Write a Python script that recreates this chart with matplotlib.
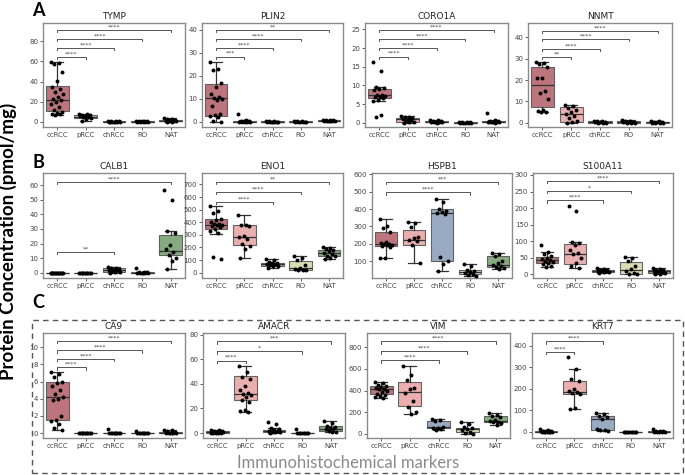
## Import

import numpy as np
import matplotlib
matplotlib.use('Agg')
import matplotlib.pyplot as plt
from matplotlib.patches import Rectangle

## Data

groups = ['ccRCC', 'pRCC', 'chRCC', 'RO', 'NAT']
group_colors = ['#b5666f', '#e8a6a6', '#8ea2bd', '#d6dbaa', '#7aa273']

# box stats per group : (q1, median, q3, whisker low, whisker high)
# sig : (compared group, stars, bracket height)

tymp_pts = [[59.5, 58, 57, 49, 41, 35, 33, 30, 28, 25, 23, 22, 20, 18, 15, 12, 10, 9, 8, 7.5, 7],
            [8, 7.6, 7.2, 6.8, 6, 5.5, 5, 4.5, 4, 3, 1],
            [1.0, 0.8, 0.6, 0.5, 0.4, 0.3, 0.2, 0.2, 0.1, 0.1, 0],
            [1.2, 1.0, 0.8, 0.6, 0.5, 0.4, 0.3, 0.2, 0.1, 0],
            [3.5, 3, 2.5, 2, 1.5, 1.2, 1, 0.8, 0.5, 0.3, 0.2]]
tymp_box = [(11, 22, 36, 7, 59.5), (4, 5, 7, 1, 8), (0.1, 0.3, 0.6, 0, 1), (0.2, 0.4, 0.8, 0, 1.2), (0.6, 1.1, 2, 0.2, 3.5)]
tymp_sig = [(1, '****', 64.5), (2, '****', 73.4), (3, '****', 82), (4, '****', 91)]

plin2_pts = [[26, 23, 22.5, 17, 15, 12, 11, 10.5, 10, 9.5, 7, 3.5, 3, 2.5, 2, 0.5, 0],
             [3.5, 1, 0.5, 0.3, 0.2, 0.1, 0.1, 0, 0, 0],
             [0.3, 0.2, 0.2, 0.1, 0.1, 0.1, 0, 0, 0, 0],
             [0.4, 0.3, 0.2, 0.1, 0.1, 0.1, 0, 0, 0],
             [1.0, 0.9, 0.8, 0.7, 0.6, 0.5, 0.5, 0.4, 0.3, 0.3]]
plin2_box = [(2.6, 10.2, 16.5, 0, 26), (0, 0.1, 0.3, 0, 1), (0, 0.1, 0.2, 0, 0.3), (0, 0.1, 0.2, 0, 0.4), (0.4, 0.55, 0.8, 0.3, 1.0)]
plin2_sig = [(1, '***', 28.4), (2, '****', 32.2), (3, '****', 36), (4, '**', 40)]

coro1a_pts = [[16.2, 13.8, 9.5, 9.2, 9, 8.8, 7.5, 7.3, 7.1, 7, 6.8, 6.5, 6.2, 5.8, 2, 1.6],
              [1.8, 1.6, 1.4, 1.3, 1.1, 0.9, 0.7, 0.5, 0.3, 0.1, 0],
              [0.8, 0.7, 0.5, 0.4, 0.3, 0.3, 0.2, 0.1, 0.1, 0],
              [0.2, 0.15, 0.1, 0.1, 0.05, 0.05, 0, 0, 0],
              [2.6, 0.7, 0.5, 0.4, 0.3, 0.25, 0.2, 0.1, 0.1, 0]]
coro1a_box = [(6.6, 7.3, 9, 5.8, 9.5), (0.3, 0.9, 1.3, 0, 1.8), (0.1, 0.3, 0.45, 0, 0.8), (0, 0.05, 0.1, 0, 0.2), (0.1, 0.25, 0.45, 0, 0.7)]
coro1a_sig = [(1, '****', 17.7), (2, '****', 19.9), (3, '****', 22.4), (4, '****', 24.8)]

nnmt_pts = [[28.5, 28, 27.5, 26, 21, 20.8, 15, 14, 11, 6, 5.5, 5.2, 5],
            [8.5, 8, 7, 6, 5, 4, 3, 2, 1, 0.5, 0],
            [1, 0.8, 0.6, 0.4, 0.3, 0.2, 0.1, 0, 0],
            [1.2, 1, 0.7, 0.5, 0.3, 0.2, 0.1, 0, 0],
            [1, 0.8, 0.5, 0.3, 0.2, 0.1, 0.1, 0, 0]]
nnmt_box = [(7.5, 17.5, 26, 5, 28.5), (0.5, 4, 7.5, 0, 8.5), (0.1, 0.3, 0.6, 0, 1), (0.1, 0.3, 0.7, 0, 1.2), (0, 0.2, 0.5, 0, 1)]
nnmt_sig = [(1, '**', 31), (2, '****', 34.7), (3, '****', 39.1), (4, '****', 43.2)]

calb1_pts = [[0, 0, 0, 0, 0, 0, 0, 0, 0, 0, 0, 0, 0, 0],
             [0, 0, 0, 0, 0, 0, 0, 0, 0, 0, 0],
             [3.8, 3.5, 3, 2.8, 2.2, 2, 1.8, 1, 0.5, 0.2, 0],
             [3, 0.5, 0.3, 0.2, 0.1, 0, 0, 0, 0, 0],
             [57, 50, 28.5, 27, 19, 16, 14, 12, 10, 8, 2.5]]
calb1_box = [(0, 0, 0, 0, 0), (0, 0, 0, 0, 0), (0.5, 2, 3, 0, 3.8), (0, 0.1, 0.3, 0, 0.5), (12, 15, 26, 2.5, 28.5)]
calb1_sig = [(2, '**', 14.4), (4, '****', 62.3)]

eno1_pts = [[530, 490, 470, 430, 420, 400, 390, 385, 380, 375, 370, 360, 350, 330, 315, 125, 110],
            [460, 380, 375, 370, 290, 280, 270, 230, 210, 190, 120],
            [110, 100, 85, 80, 75, 70, 68, 62, 55, 50, 40],
            [130, 120, 100, 60, 35, 30, 25, 22, 20],
            [205, 195, 185, 180, 170, 160, 150, 135, 130, 115, 110]]
eno1_box = [(345, 380, 430, 310, 530), (220, 280, 375, 120, 460), (55, 70, 80, 40, 110), (25, 35, 95, 20, 130), (130, 160, 180, 110, 205)]
eno1_sig = [(2, '****', 563), (3, '****', 640), (4, '**', 720)]

hspb1_pts = [[340, 300, 290, 270, 210, 205, 200, 198, 195, 190, 185, 180, 120, 115],
             [325, 320, 295, 240, 230, 220, 215, 190, 88],
             [460, 440, 400, 390, 385, 380, 370, 125, 100, 80, 45],
             [85, 70, 50, 40, 35, 30, 25, 20, 15],
             [148, 140, 130, 100, 90, 75, 70, 65, 60, 55]]
hspb1_box = [(185, 200, 265, 115, 340), (195, 220, 280, 88, 325), (100, 380, 400, 45, 460), (25, 35, 50, 15, 85), (65, 75, 130, 55, 148)]
hspb1_sig = [(3, '****', 496), (4, '***', 557)]

s100a11_pts = [[88, 68, 60, 55, 50, 45, 42, 40, 38, 35, 30, 25, 22],
               [207, 190, 97, 95, 90, 75, 65, 60, 50, 35, 25, 20],
               [18, 16, 14, 13, 12, 11, 10, 9, 8, 6, 5],
               [52, 50, 40, 25, 15, 10, 5, 2, 0],
               [18, 16, 13, 12, 10, 9, 8, 6, 5, 2, 0]]
s100a11_box = [(33, 42, 52, 22, 68), (30, 60, 92, 20, 97), (8, 11, 13, 5, 18), (2, 14, 38, 0, 52), (5, 9, 12, 0, 18)]
s100a11_sig = [(2, '****', 223), (3, '*', 252), (4, '****', 281)]

ca9_pts = [[7.1, 6.9, 6.5, 6.0, 5.8, 5.5, 5.0, 4.5, 4.2, 4.0, 3.8, 2.0, 1.5, 1.4, 1.0, 0.6, 0.4],
           [0.05, 0.03, 0.02, 0.01, 0, 0, 0, 0, 0, 0, 0],
           [0.5, 0.05, 0.03, 0.02, 0, 0, 0, 0, 0, 0],
           [0.25, 0.05, 0.03, 0.02, 0, 0, 0, 0, 0, 0],
           [0.35, 0.3, 0.2, 0.1, 0.05, 0.02, 0, 0, 0, 0]]
ca9_box = [(1.5, 4.2, 5.9, 0.4, 7.1), (0, 0, 0.02, 0, 0.05), (0, 0, 0.03, 0, 0.05), (0, 0, 0.03, 0, 0.05), (0, 0.03, 0.15, 0, 0.35)]
ca9_sig = [(1, '****', 7.65), (2, '****', 8.67), (3, '****', 9.64), (4, '****', 10.7)]

amacr_pts = [[2.5, 2.2, 1.8, 1.5, 1.2, 1.0, 0.8, 0.6, 0.5, 0.3, 0.2, 0.1, 0, 0],
             [54.5, 50, 46, 44, 38, 35, 33, 32, 31, 29, 27, 25, 19, 18, 17.5],
             [9, 7.5, 3.8, 3, 2.5, 2, 1.5, 1.2, 1, 0.5, 0],
             [3, 0.3, 0.2, 0.1, 0, 0, 0, 0, 0],
             [10, 8, 6, 5, 4, 3.5, 3, 2, 1, 0.5]]
amacr_box = [(0.3, 0.8, 1.3, 0, 2.5), (27, 32, 46.5, 17.5, 54.5), (1, 1.5, 2.3, 0, 3.8), (0, 0.1, 0.2, 0, 0.3), (2, 3.5, 5.5, 0.5, 10)]
amacr_sig = [(1, '****', 59), (3, '*', 66.4), (4, '***', 74.5)]

vim_pts = [[480, 470, 450, 440, 430, 420, 415, 410, 400, 390, 370, 360, 345, 340, 335],
           [630, 540, 500, 420, 410, 380, 300, 250, 200, 185],
           [140, 130, 120, 60, 55, 50, 45, 35],
           [110, 90, 60, 50, 40, 30, 15, 5, 0],
           [190, 175, 160, 150, 130, 120, 110, 105, 95, 80]]
vim_box = [(365, 410, 440, 335, 480), (260, 385, 480, 185, 630), (55, 60, 120, 35, 140), (15, 40, 55, 0, 110), (105, 120, 160, 80, 190)]
vim_sig = [(2, '****', 679), (3, '****', 762), (4, '****', 855)]

krt7_pts = [[12, 8, 6, 5, 4, 3, 2, 2, 1, 1, 0, 0, 0],
            [345, 290, 245, 235, 200, 190, 185, 180, 175, 110, 105],
            [90, 85, 75, 70, 60, 15, 10, 8, 5],
            [2, 1, 1, 0.5, 0, 0, 0, 0, 0],
            [15, 5, 4, 3, 2, 1, 1, 0, 0]]
krt7_box = [(0, 2, 4, 0, 8), (175, 185, 237, 105, 290), (10, 60, 72, 5, 90), (0, 0.5, 1, 0, 2), (0, 1, 3, 0, 5)]
krt7_sig = [(1, '****', 370), (2, '****', 419)]

# (title, points, boxes, sig, ylim, yticks)
Panels = [
    [('TYMP', tymp_pts, tymp_box, tymp_sig, (-5, 98), [0, 20, 40, 60, 80]),
     ('PLIN2', plin2_pts, plin2_box, plin2_sig, (-2.2, 43), [0, 10, 20, 30, 40]),
     ('CORO1A', coro1a_pts, coro1a_box, coro1a_sig, (-1.15, 26.7), [0, 5, 10, 15, 20, 25]),
     ('NNMT', nnmt_pts, nnmt_box, nnmt_sig, (-2, 46.8), [0, 10, 20, 30, 40])],
    [('CALB1', calb1_pts, calb1_box, calb1_sig, (-3.6, 68.3), [0, 10, 20, 30, 40, 50, 60]),
     ('ENO1', eno1_pts, eno1_box, eno1_sig, (-42, 791), [0, 100, 200, 300, 400, 500, 600, 700]),
     ('HSPB1', hspb1_pts, hspb1_box, hspb1_sig, (2, 608), [100, 200, 300, 400, 500, 600]),
     ('S100A11', s100a11_pts, s100a11_box, s100a11_sig, (-11, 306), [0, 50, 100, 150, 200, 250, 300])],
    [('CA9', ca9_pts, ca9_box, ca9_sig, (-0.58, 11.67), [0, 2, 4, 6, 8, 10]),
     ('AMACR', amacr_pts, amacr_box, amacr_sig, (-4, 81.4), [0, 20, 40, 60, 80]),
     ('VIM', vim_pts, vim_box, vim_sig, (-40, 933), [0, 200, 400, 600, 800]),
     ('KRT7', krt7_pts, krt7_box, krt7_sig, (-28, 458), [0, 100, 200, 300, 400])],
]

## Layout (pixels of the 685 x 475 picture)

W, H = 685., 475.
Rows_y = [(23, 127), (173, 278), (333, 438)]
Cols_x = [[(43, 185), (202, 343), (365, 508), (528, 672)],
          [(43, 185), (202, 343), (372, 512), (533, 673)],
          [(43, 185), (203, 345), (367, 510), (532, 673)]]

line_c = '#333333'
bracket_c = '#555555'


def jitter(n, width=0.45):
    # deterministic spread of the dots around the group centre
    return ((np.arange(n) * 0.618034) % 1 - 0.5) * width


def draw_panel(ax, title, pts, boxes, sig, ylim, yticks):
    stats = []
    for b in boxes:
        stats.append({'q1': b[0], 'med': b[1], 'q3': b[2], 'whislo': b[3], 'whishi': b[4], 'fliers': []})
    bp = ax.bxp(stats, positions=range(len(groups)), widths=0.8, patch_artist=True, showfliers=False,
                boxprops=dict(edgecolor='#555555', linewidth=0.8),
                medianprops=dict(color=line_c, linewidth=0.9),
                whiskerprops=dict(color=line_c, linewidth=0.9),
                capprops=dict(color=line_c, linewidth=0.9))
    for patch, col in zip(bp['boxes'], group_colors):
        patch.set_facecolor(col)
        patch.set_alpha(0.9)
    for i, vals in enumerate(pts):
        vals = np.asarray(vals, dtype=float)
        ax.scatter(i + jitter(len(vals)), vals, s=8, c='k', linewidths=0, zorder=4)
    h = 0.02 * (ylim[1] - ylim[0])
    for j, stars, y in sig:
        ax.plot([0, 0, j, j], [y - h, y, y, y - h], color=bracket_c, lw=0.7)
        ax.text(j / 2., y + 0.3 * h, stars, ha='center', va='bottom', fontsize=4.5, color='#444444')
    ax.set_xlim(-0.5, 4.5)
    ax.set_ylim(*ylim)
    ax.set_yticks(yticks)
    ax.set_xticks(range(len(groups)))
    ax.set_xticklabels(groups)
    ax.set_title(title, fontsize=6.5, pad=3, color='#222222')
    ax.tick_params(labelsize=5, length=2, width=0.6, colors='#444444', pad=1.5)
    for sp in ax.spines.values():
        sp.set_color('#8a8a8a')
        sp.set_linewidth(1.0)


fig = plt.figure(figsize=(6.85, 4.75), dpi=100)

for r, row in enumerate(Panels):
    top, bottom = Rows_y[r]
    for c, panel in enumerate(row):
        left, right = Cols_x[r][c]
        ax = fig.add_axes([left / W, 1 - bottom / H, (right - left) / W, (bottom - top) / H])
        draw_panel(ax, *panel)

# panel letters
for letter, yc in zip(['A', 'B', 'C'], [10, 162, 303]):
    fig.text(38 / W, 1 - yc / H, letter, fontsize=13, fontweight='bold', ha='center', va='center',
             family=['Lato', 'DejaVu Sans'])

# common y label
fig.text(8 / W, 1 - 241 / H, 'Protein Concentration (pmol/mg)', rotation=90, fontsize=13.5,
         fontweight='bold', ha='center', va='center', family=['Lato', 'DejaVu Sans'])

# dashed frame for the immunohistochemical markers
fig.patches.append(Rectangle((32 / W, 1 - 473 / H), (683 - 32) / W, (473 - 320) / H,
                             transform=fig.transFigure, fill=False, ls=(0, (4, 3)),
                             lw=1.0, edgecolor='#555555'))
fig.text(348 / W, 1 - 463 / H, 'Immunohistochemical markers', fontsize=12, color='#8a8a8a',
         ha='center', va='center', family=['Lato', 'DejaVu Sans'])

fig.savefig('out.png', dpi=100)
